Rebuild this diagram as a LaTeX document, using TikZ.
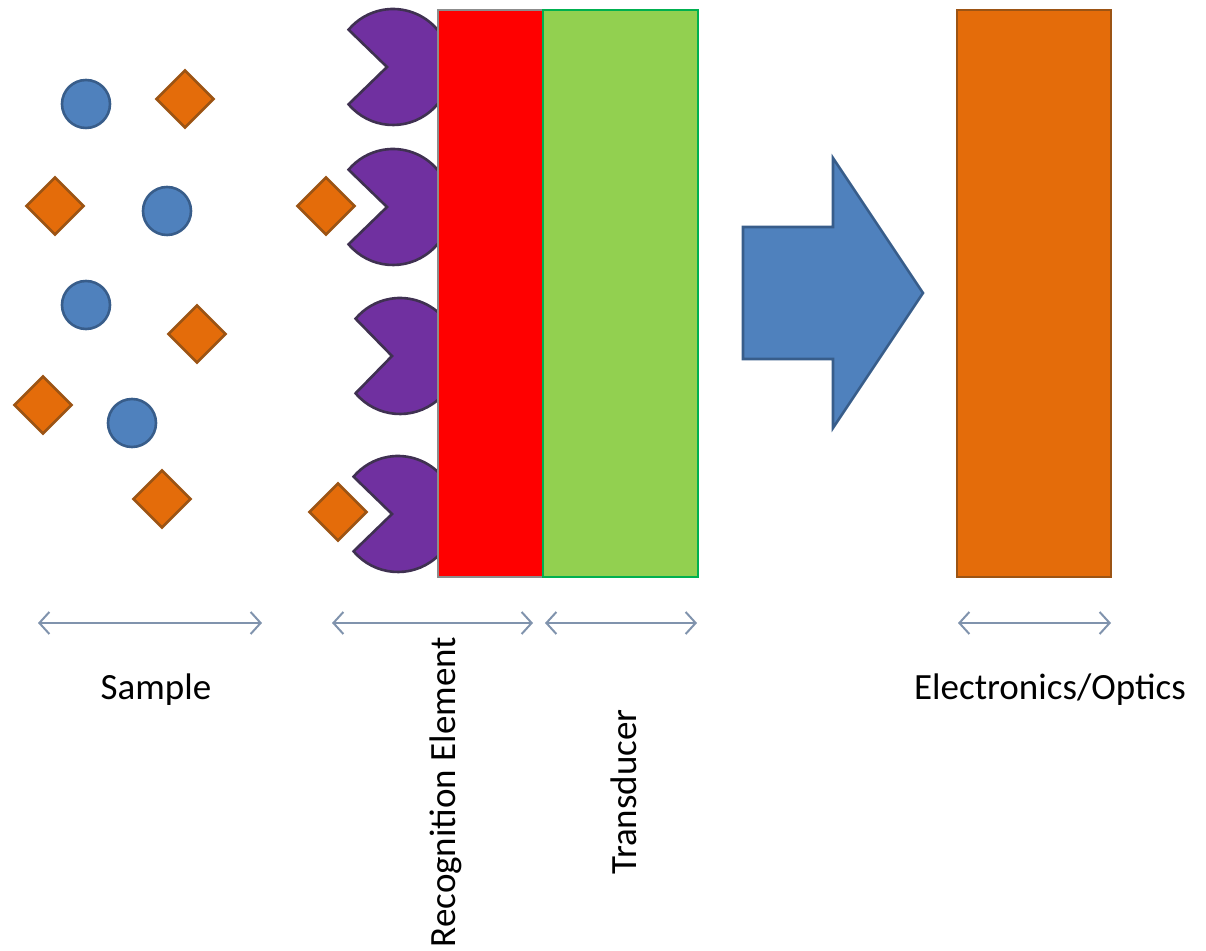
\documentclass[tikz,border=0pt]{standalone}
\usepackage{fontspec}
\setmainfont{Carlito}
\usetikzlibrary{arrows.meta,shapes.geometric}
\definecolor{cblue}{HTML}{4F81BD}
\definecolor{cblueline}{HTML}{385D8A}
\definecolor{corange}{HTML}{E46C0A}
\definecolor{corangeline}{HTML}{9C5414}
\definecolor{cpurple}{HTML}{7030A0}
\definecolor{cpurpleline}{HTML}{3F3151}
\definecolor{cgreen}{HTML}{92D050}
\definecolor{cgreenline}{HTML}{00B050}
\definecolor{cdim}{HTML}{8093AD}
\tikzset{
  mol/.style={circle,fill=cblue,draw=cblueline,line width=1.3pt,minimum size=24pt,inner sep=0pt},
  analyte/.style={diamond,fill=corange,draw=corangeline,line width=1.3pt,minimum width=29pt,minimum height=29pt,inner sep=0pt},
  receptor/.style={fill=cpurple,draw=cpurpleline,line width=1.3pt},
  dimline/.style={draw=cdim,line width=1pt,{Straight Barb[length=5pt,width=11pt]}-{Straight Barb[length=5pt,width=11pt]}},
  lbl/.style={font=\fontsize{18.5}{22}\selectfont,inner sep=0pt}
}
\newcommand{\pacman}[3]{%
  \path[receptor] (#1-#3,#2) -- ($(#1,#2)+(140:58)$) arc[start angle=140,end angle=-140,radius=58] -- cycle;}
\usetikzlibrary{calc}
\begin{document}
\begin{tikzpicture}[x=0.5pt,y=-0.5pt]
\useasboundingbox (0,0) rectangle (1206,951);
% receptors
\pacman{393}{67}{6}
\pacman{393}{207}{6}
\pacman{400}{356}{8}
\pacman{398}{514}{6}
% layers
\path[fill=red,draw=black!45,line width=0.6pt] (438,10) rectangle (543,577) coordinate (redbr);
\node[inner sep=0pt,minimum width=0pt] (red) at (490,293) {};
\path[fill=cgreen,draw=cgreenline,line width=1.2pt] (543,10) rectangle (698,577);
\node[inner sep=0pt] (green) at (620,293) {};
\path[fill=corange,draw=corangeline,line width=1.2pt] (957,10) rectangle (1111,577);
\node[inner sep=0pt] (elec) at (1034,293) {};
% big arrow
\path[fill=cblue,draw=cblueline,line width=1.3pt,line join=miter]
  (743,227) -- (833,227) -- (833,158) -- (923,293) -- (833,428) -- (833,359) -- (743,359) -- cycle;
% sample molecules
\node[mol] (m1) at (86,104) {};
\node[mol] (m2) at (167,211) {};
\node[mol] (m3) at (86,305) {};
\node[mol] (m4) at (132,423) {};
\node[analyte] (d1) at (185,99) {};
\node[analyte] (d2) at (55,206) {};
\node[analyte] (d3) at (197,334) {};
\node[analyte] (d4) at (43,405) {};
\node[analyte] (d5) at (162,499) {};
\node[analyte] (d6) at (326,206) {};
\node[analyte] (d7) at (338,512) {};
% dimension arrows
\coordinate (s1) at (38,623);  \coordinate (s2) at (262,623);
\coordinate (r1) at (332,623); \coordinate (r2) at (533,623);
\coordinate (t1) at (545,623); \coordinate (t2) at (697,623);
\coordinate (e1) at (958,623); \coordinate (e2) at (1111,623);
\draw[dimline] (s1) -- (s2);
\draw[dimline] (r1) -- (r2);
\draw[dimline] (t1) -- (t2);
\draw[dimline] (e1) -- (e2);
% labels
\node[lbl] (lsample) at (156,690) {Sample};
\node[lbl] (lelec) at (1050,690) {Electronics/Optics};
\node[lbl,rotate=90] (lrec) at (446,792) {Recognition Element};
\node[lbl,rotate=90] (ltrans) at (624,792) {Transducer};
\end{tikzpicture}
\end{document}
